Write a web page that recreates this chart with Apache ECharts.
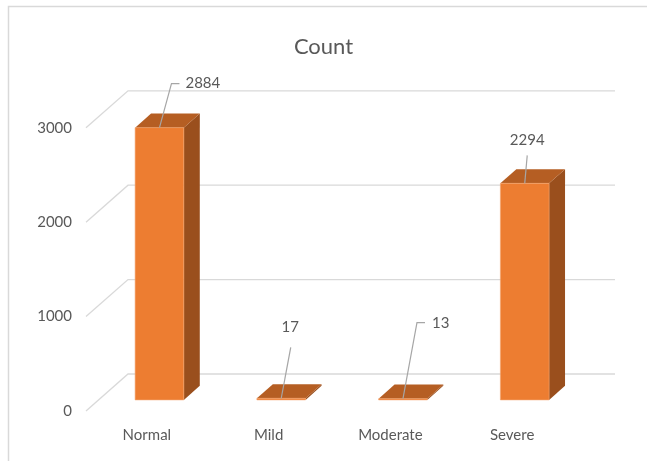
<!DOCTYPE html>
<html>
<head>
<meta charset="utf-8">
<script src="https://cdn.jsdelivr.net/npm/echarts@6/dist/echarts.min.js"></script>
<style>
  html, body { margin: 0; padding: 0; background: #ffffff; }
  #chart { width: 647px; height: 461px; }
</style>
</head>
<body>
<div id="chart"></div>
<script>
// Severity counts
const categories = ['Normal', 'Mild', 'Moderate', 'Severe'];
const counts = [2884, 17, 13, 2294];
const yTicks = [0, 1000, 2000, 3000];

const FONT = '"Liberation Sans Narrow", "Lato", sans-serif';
const TEXT = '#595959';
const GRID_LINE = '#d9d9d9';

// oblique projection of the box depth (pixels, full depth)
const DEPTH = [42, -37];
// bar slab position inside the depth (fractions of DEPTH)
const BAR_FRONT = 0.30;
const BAR_BACK = 0.68;
const BAR_RATIO = 0.40;

const FACE_FRONT = '#ed7d31';
const FACE_TOP = '#b55e23';
const FACE_SIDE = '#9a4f1d';

// leader lines and text anchors, relative to the bar's front-top centre
const labelLayouts = [
  { path: [[0, 0], [12, -44], [20, -44]], text: [26, -44], align: 'left' },
  { path: [[0, 0], [9.5, -51]], text: [9, -71], align: 'center' },
  { path: [[0, 0], [14, -76], [22, -76]], text: [29, -76], align: 'left' },
  { path: [[0, 0], [2.5, -28]], text: [2.5, -43], align: 'center' }
];

const chart = echarts.init(document.getElementById('chart'), null, { renderer: 'canvas' });

function off(p, f) {
  return [p[0] + DEPTH[0] * f, p[1] + DEPTH[1] * f];
}

// back wall gridlines plus the diagonals on the left side wall
function renderGrid(params, api) {
  const cs = params.coordSys;
  const y = api.coord([0, api.value(1)])[1];
  const x0 = cs.x, x1 = cs.x + cs.width;
  return {
    type: 'polyline',
    shape: { points: [[x0, y], off([x0, y], 1), off([x1, y], 1)] },
    style: { stroke: GRID_LINE, lineWidth: 1.3, fill: null },
    silent: true
  };
}

// box-shaped bar: side face, top face, front face
function renderBar(params, api) {
  const i = api.value(0), v = api.value(1);
  const top = api.coord([i, v]);
  const base = api.coord([i, 0]);
  const w = api.size([1, 0])[0] * BAR_RATIO;
  const xl = top[0] - w / 2, xr = top[0] + w / 2;
  const side = [off([xr, base[1]], BAR_FRONT), off([xr, top[1]], BAR_FRONT),
                off([xr, top[1]], BAR_BACK), off([xr, base[1]], BAR_BACK)];
  const topFace = [off([xl, top[1]], BAR_FRONT), off([xr, top[1]], BAR_FRONT),
                   off([xr, top[1]], BAR_BACK), off([xl, top[1]], BAR_BACK)];
  const fl = off([xl, top[1]], BAR_FRONT);
  return {
    type: 'group',
    children: [
      { type: 'polygon', shape: { points: side }, style: { fill: FACE_SIDE } },
      { type: 'polygon', shape: { points: topFace }, style: { fill: FACE_TOP } },
      { type: 'rect', shape: { x: fl[0], y: fl[1], width: w, height: base[1] - top[1] },
        style: { fill: FACE_FRONT, stroke: '#f4a46e', lineWidth: 0.6 } }
    ]
  };
}

// value labels with leader lines
function renderLabel(params, api) {
  const i = api.value(0), v = api.value(1);
  const top = api.coord([i, v]);
  const anchor = off([top[0], top[1]], BAR_FRONT);
  const lay = labelLayouts[i];
  const pts = lay.path.map(p => [anchor[0] + p[0], anchor[1] + p[1]]);
  return {
    type: 'group',
    children: [
      { type: 'polyline', shape: { points: pts },
        style: { stroke: '#a6a6a6', lineWidth: 1.2, fill: null } },
      { type: 'text',
        style: { x: anchor[0] + lay.text[0], y: anchor[1] + lay.text[1], text: String(v),
                 fill: TEXT, font: '15px ' + FONT, align: lay.align, verticalAlign: 'middle' } }
    ]
  };
}

const barData = counts.map((v, i) => [i, v]);

chart.setOption({
  backgroundColor: '#ffffff',
  animation: false,
  title: {
    text: 'Count',
    left: 'center',
    top: 28,
    textStyle: { fontFamily: FONT, fontSize: 22, fontWeight: 'normal', color: TEXT, lineHeight: 28 }
  },
  graphic: [{
    type: 'rect',
    shape: { x: 8.5, y: 6.5, width: 700, height: 500 },
    style: { fill: null, stroke: '#d9d9d9', lineWidth: 1.5 },
    silent: true
  }],
  grid: { left: 86, right: 74, top: 127.8, bottom: 50 },
  xAxis: {
    type: 'category',
    data: categories,
    axisLine: { show: false },
    axisTick: { show: false },
    axisLabel: { color: TEXT, fontFamily: FONT, fontSize: 15, margin: 17 }
  },
  yAxis: {
    type: 'value',
    min: 0,
    max: 3000,
    interval: 1000,
    axisLine: { show: false },
    axisTick: { show: false },
    splitLine: { show: false },
    axisLabel: { color: TEXT, fontFamily: FONT, fontSize: 15, margin: 14,
                 formatter: v => String(v) }
  },
  series: [
    { type: 'custom', z: 1, clip: false, renderItem: renderGrid,
      data: yTicks.map(v => [0, v]), silent: true },
    { type: 'custom', z: 2, clip: false, renderItem: renderBar, data: barData },
    { type: 'custom', z: 3, clip: false, renderItem: renderLabel, data: barData, silent: true }
  ]
});
</script>
</body>
</html>
